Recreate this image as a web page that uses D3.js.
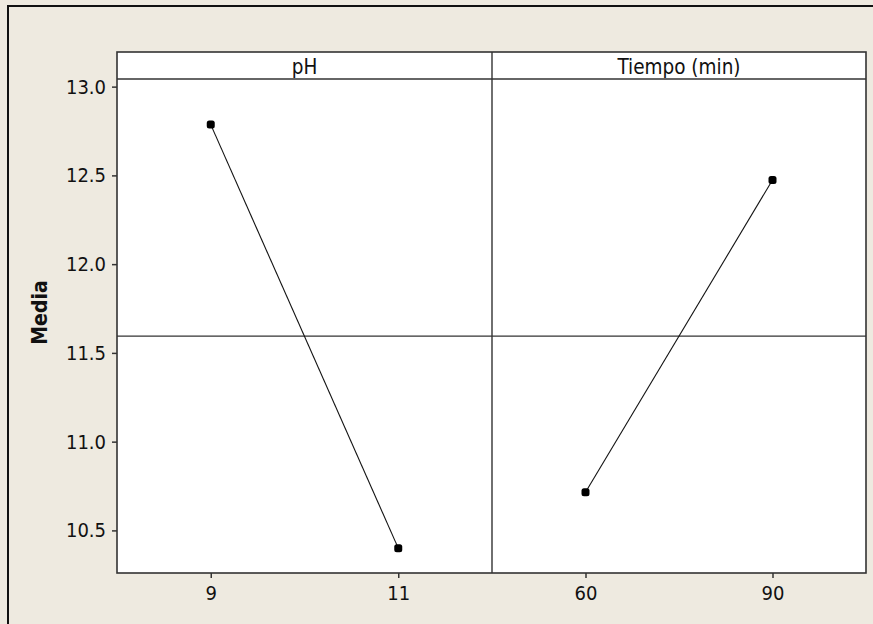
<!DOCTYPE html>
<html>
<head>
<meta charset="utf-8">
<script src="https://cdn.jsdelivr.net/npm/d3@7"></script>
<style>
  body { margin: 0; background: #eeeae0; }
  svg { display: block; }
  text { font-family: "DejaVu Sans Condensed", "Liberation Sans", sans-serif; fill: #111; }
</style>
</head>
<body>
<svg width="873" height="624"></svg>
<script>
// factor panels and their means
const factors = ["pH", "Tiempo (min)"];
const phLevels = ["9", "11"];
const phMeans = [12.786, 10.40];
const timeLevels = ["60", "90"];
const timeMeans = [10.715, 12.474];
const grandMean = 11.594;
const yTicks = [10.5, 11.0, 11.5, 12.0, 12.5, 13.0];

const svg = d3.select("svg");

// outer frame (right and bottom edges run off the picture)
svg.append("rect")
    .attr("x", 8).attr("y", 6)
    .attr("width", 900).attr("height", 700)
    .attr("fill", "#eeeae0")
    .attr("stroke", "#111").attr("stroke-width", 2);

const mLeft = 117, mRight = 866, mTop = 52, stripH = 27, mBottom = 573;
const mid = (mLeft + mRight) / 2 + 0.5;

const y = d3.scaleLinear()
    .domain([10.26, 13.043])
    .range([mBottom, mTop + stripH]);

const panels = [
  { name: factors[0], levels: phLevels, means: phMeans, x0: mLeft, x1: mid },
  { name: factors[1], levels: timeLevels, means: timeMeans, x0: mid, x1: mRight }
];

// white plot area
svg.append("rect")
    .attr("x", mLeft).attr("y", mTop)
    .attr("width", mRight - mLeft).attr("height", mBottom - mTop)
    .attr("fill", "#fff");

// grand mean reference line
svg.append("line")
    .attr("x1", mLeft).attr("x2", mRight)
    .attr("y1", y(grandMean)).attr("y2", y(grandMean))
    .attr("stroke", "#333").attr("stroke-width", 1.2);

panels.forEach(function(p) {
  const x = d3.scalePoint()
      .domain(p.levels)
      .range([p.x0, p.x1])
      .padding(0.5);

  // strip header text
  svg.append("text")
      .attr("x", (p.x0 + p.x1) / 2)
      .attr("y", mTop + stripH / 2 + 1)
      .attr("dy", "0.35em")
      .attr("text-anchor", "middle")
      .attr("font-size", 20.5)
      .text(p.name);

  const pts = p.levels.map((l, i) => [x(l), y(p.means[i])]);

  svg.append("path")
      .attr("d", d3.line()(pts))
      .attr("fill", "none")
      .attr("stroke", "#111")
      .attr("stroke-width", 1.1);

  svg.selectAll(null)
      .data(pts)
      .join("rect")
        .attr("x", d => d[0] - 4)
        .attr("y", d => d[1] - 4)
        .attr("width", 8).attr("height", 8)
        .attr("rx", 2.5)
        .attr("fill", "#000");

  // x axis ticks for this panel
  const ax = svg.append("g")
      .attr("transform", `translate(0,${mBottom})`)
      .call(d3.axisBottom(x).tickSize(5).tickPadding(8));
  ax.select(".domain").remove();
  ax.selectAll("line").attr("stroke", "#333").attr("stroke-width", 1.5);
  ax.selectAll("text").attr("font-size", 20).attr("fill", "#111");
});

// y axis
const ay = svg.append("g")
    .attr("transform", `translate(${mLeft},0)`)
    .call(d3.axisLeft(y).tickValues(yTicks).tickFormat(d3.format(".1f")).tickSize(5).tickPadding(6));
ay.select(".domain").remove();
ay.selectAll("line").attr("stroke", "#333").attr("stroke-width", 1.5);
ay.selectAll("text").attr("font-size", 20).attr("fill", "#111");

// frame, strip line and panel divider
svg.append("rect")
    .attr("x", mLeft).attr("y", mTop)
    .attr("width", mRight - mLeft).attr("height", mBottom - mTop)
    .attr("fill", "none")
    .attr("stroke", "#333").attr("stroke-width", 1.6);
svg.append("line")
    .attr("x1", mLeft).attr("x2", mRight)
    .attr("y1", mTop + stripH).attr("y2", mTop + stripH)
    .attr("stroke", "#333").attr("stroke-width", 1.6);
svg.append("line")
    .attr("x1", mid).attr("x2", mid)
    .attr("y1", mTop).attr("y2", mBottom)
    .attr("stroke", "#333").attr("stroke-width", 1.4);

// y axis title
svg.append("text")
    .attr("transform", `translate(47,${(mTop + mBottom) / 2}) rotate(-90)`)
    .attr("text-anchor", "middle")
    .attr("font-size", 21)
    .attr("font-weight", "bold")
    .text("Media");
</script>
</body>
</html>
